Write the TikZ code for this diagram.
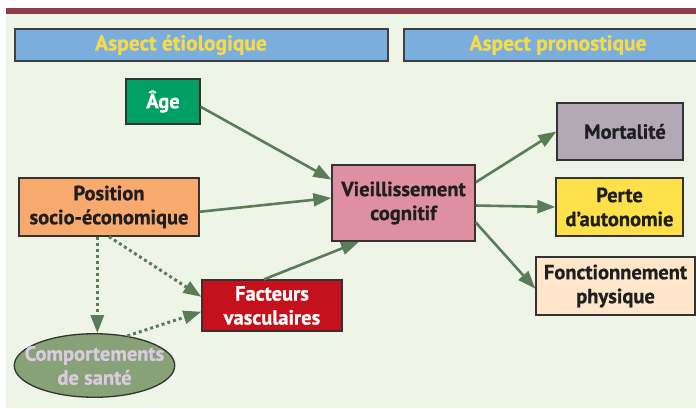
\documentclass[tikz,border=0pt]{standalone}
\usepackage{fontspec}
\setmainfont{PT Sans}[BoldFeatures={FakeBold=0.8}]
\usetikzlibrary{arrows.meta}
\usetikzlibrary{shapes.geometric}
\usetikzlibrary{calc}
\definecolor{fdbg}{HTML}{EEF4E6}
\definecolor{barre}{HTML}{8E3C49}
\definecolor{hdbg}{HTML}{7AAEDD}
\definecolor{hdtx}{HTML}{F7DA4A}
\definecolor{flch}{HTML}{5A7D57}
\definecolor{cage}{HTML}{00A062}
\definecolor{cpos}{HTML}{F8A96E}
\definecolor{cvie}{HTML}{DE90A2}
\definecolor{cfac}{HTML}{C4111B}
\definecolor{ccmp}{HTML}{86A276}
\definecolor{tcmp}{HTML}{DCC9E2}
\definecolor{cmor}{HTML}{B3A9B5}
\definecolor{cper}{HTML}{FEE04B}
\definecolor{cfon}{HTML}{FDE6C9}
\tikzset{pxl/.style={
  x=1pt,
  y=-1pt
}}
\tikzset{bxn/.style={
  draw=black!80,
  line width=1.3pt,
  shape=rectangle,
  align=center,
  inner sep=0pt,
  text=black!88,
  font=\bfseries\fontsize{20.5}{24}\selectfont
}}
\tikzset{elp/.style={
  bxn,
  shape=ellipse,
  inner xsep=-13pt,
  inner ysep=3pt
}}
\tikzset{hdr/.style={
  draw=black!75,
  fill=hdbg,
  line width=1.3pt
}}
\tikzset{hdt/.style={
  text=hdtx,
  font=\bfseries\fontsize{21.5}{24}\selectfont
}}
\tikzset{arw/.style={
  draw=flch,
  line width=2.6pt,
  -{Triangle[length=18pt,width=13pt]}
}}
\tikzset{dtt/.style={
  arw,
  line width=3pt,
  dash pattern=on 3pt off 3pt
}}

\begin{document}
\begin{tikzpicture}[pxl]
    \useasboundingbox (0,0) rectangle (696,409);

    %% Fond et bandeaux

    % Fond
    \fill[fdbg] (6,14) rectangle (696,408);
    \fill[barre] (6,8) rectangle (696,14);

    % Bandeaux
    \draw[hdr] (15,29) rectangle (388,61);
    \node[hdt] (etio) at (181,45) {Aspect étiologique};
    \draw[hdr] (404,29) rectangle (702,61);
    \node[hdt] (prono) at (558,45) {Aspect pronostique};

    %% Facteurs

    \node[bxn,fill=cage,text=white,minimum width=74,minimum height=45]
      (age) at (163,101.5) {Âge};
    \node[bxn,fill=cpos,minimum width=180,minimum height=58]
      (pos) at (109,207) {Position\\socio-économique};
    \node[bxn,fill=cvie,minimum width=143,minimum height=76]
      (vie) at (403.5,203) {Vieillissement\\cognitif};
    \node[bxn,fill=cfac,text=white,minimum width=140,minimum height=51]
      (fac) at (272,305.5) {Facteurs\\vasculaires};
    \node[elp,fill=ccmp,text=tcmp]
      (cmp) at (94.5,365.5) {Comportements\\de santé};

    %% Pronostic

    \node[bxn,fill=cmor,minimum width=126,minimum height=57]
      (mor) at (620,131.5) {\hspace*{10pt}Mortalité};
    \node[bxn,fill=cper,minimum width=127,minimum height=58]
      (per) at (619.5,207) {Perte\\d’autonomie};
    \node[bxn,fill=cfon,minimum width=159,minimum height=58]
      (fon) at (615.5,286) {Fonctionnement\\physique};

    % Fleches pleines
    \draw[arw] (age.-8) -- (vie.162);
    \draw[arw] (pos.-3) -- (vie.176);
    \draw[arw] (fac.107) -- (vie.221);
    \draw[arw] (vie.16) -- (mor.west);
    \draw[arw] (vie.-2) -- (per.west);
    \draw[arw] (vie.-15) -- (fon.182);

    % Fleches pointillees
    \draw[dtt] (pos.south -| cmp.85) -- (cmp.85);
    \draw[dtt] (pos.south) -- (fac.173);
    \draw[dtt] (cmp.42) -- (fac.185);

\end{tikzpicture}
\end{document}
